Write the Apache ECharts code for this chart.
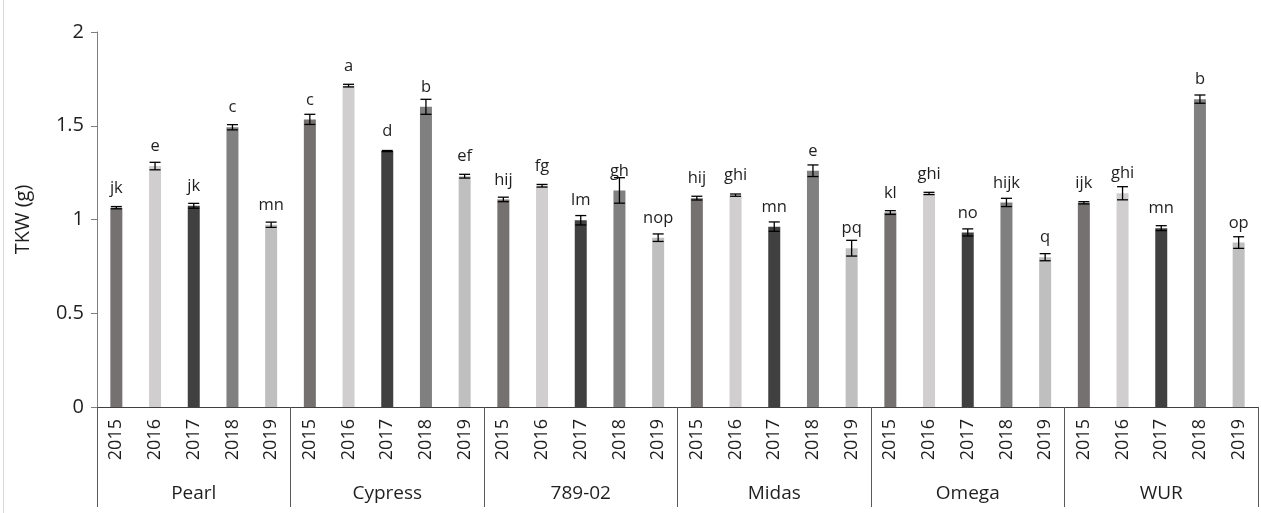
<!DOCTYPE html>
<html>
<head>
<meta charset="utf-8">
<script src="https://cdn.jsdelivr.net/npm/echarts@6/dist/echarts.min.js"></script>
<style>
  html, body { margin: 0; padding: 0; background: #ffffff; }
  #chart { width: 1261px; height: 513px; }
</style>
</head>
<body>
<div id="chart"></div>
<script>
// Thousand-kernel weight (g) per cultivar and harvest year
const cultivars = ['Pearl', 'Cypress', '789-02', 'Midas', 'Omega', 'WUR'];
const years = ['2015', '2016', '2017', '2018', '2019'];

const pearlMean   = [1.063, 1.285, 1.073, 1.492, 0.972];
const cypressMean = [1.534, 1.714, 1.365, 1.601, 1.231];
const line78902Mean = [1.107, 1.180, 0.996, 1.155, 0.903];
const midasMean   = [1.114, 1.130, 0.962, 1.260, 0.847];
const omegaMean   = [1.037, 1.139, 0.931, 1.091, 0.799];
const wurMean     = [1.089, 1.140, 0.954, 1.642, 0.877];

// standard errors
const pearlErr   = [0.006, 0.020, 0.013, 0.014, 0.014];
const cypressErr = [0.027, 0.007, 0.003, 0.040, 0.010];
const line78902Err = [0.012, 0.007, 0.025, 0.068, 0.020];
const midasErr   = [0.010, 0.006, 0.025, 0.031, 0.042];
const omegaErr   = [0.010, 0.006, 0.019, 0.022, 0.019];
const wurErr     = [0.006, 0.035, 0.013, 0.022, 0.031];

// significance groupings
const pearlSig   = ['jk', 'e', 'jk', 'c', 'mn'];
const cypressSig = ['c', 'a', 'd', 'b', 'ef'];
const line78902Sig = ['hij', 'fg', 'lm', 'gh', 'nop'];
const midasSig   = ['hij', 'ghi', 'mn', 'e', 'pq'];
const omegaSig   = ['kl', 'ghi', 'no', 'hijk', 'q'];
const wurSig     = ['ijk', 'ghi', 'mn', 'b', 'op'];

const yTicks = { min: 0, max: 2, interval: 0.5 };

const yearColors = ['#767171', '#d0cece', '#404040', '#808080', '#bfbfbf'];
const FONT = '"Open Sans", "Noto Sans", sans-serif';
const TEXT = '#1f1f1f';

const means = [pearlMean, cypressMean, line78902Mean, midasMean, omegaMean, wurMean].flat();
const errs = [pearlErr, cypressErr, line78902Err, midasErr, omegaErr, wurErr].flat();
const sigs = [pearlSig, cypressSig, line78902Sig, midasSig, omegaSig, wurSig].flat();
const yearAxis = cultivars.flatMap(() => years);

const barData = means.map((v, i) => ({
  value: v,
  itemStyle: { color: yearColors[i % years.length] }
}));
const errData = means.map((v, i) => [i, v - errs[i], v + errs[i]]);

const chart = echarts.init(document.getElementById('chart'), null, { renderer: 'canvas' });

chart.setOption({
  animation: false,
  backgroundColor: '#ffffff',
  textStyle: { fontFamily: FONT },
  grid: { left: 97, right: 3, top: 32, bottom: 106, containLabel: false },
  xAxis: [
    {
      type: 'category',
      data: yearAxis,
      position: 'bottom',
      axisLine: { show: true, lineStyle: { color: '#404040', width: 1 } },
      axisTick: { show: false },
      axisLabel: {
        rotate: 90, margin: 12, interval: 0,
        fontFamily: FONT, fontSize: 18, color: TEXT
      }
    },
    {
      type: 'category',
      data: cultivars,
      position: 'bottom',
      axisLine: { show: false },
      axisTick: {
        show: true, length: 100, alignWithLabel: false,
        lineStyle: { color: '#595959', width: 1 }
      },
      axisLabel: {
        margin: 77, interval: 0,
        fontFamily: FONT, fontSize: 19, color: TEXT
      }
    }
  ],
  yAxis: {
    type: 'value',
    min: yTicks.min, max: yTicks.max, interval: yTicks.interval,
    name: 'TKW (g)',
    nameLocation: 'middle',
    nameRotate: 90,
    nameGap: 64,
    nameTextStyle: { fontFamily: FONT, fontSize: 20, color: TEXT },
    axisLine: { show: true, lineStyle: { color: '#7f7f7f', width: 1 } },
    axisTick: { show: true, length: 6, lineStyle: { color: '#7f7f7f' } },
    splitLine: { show: false },
    axisLabel: { margin: 13, fontFamily: FONT, fontSize: 20, color: TEXT }
  },
  series: [
    {
      type: 'bar',
      xAxisIndex: 0,
      barWidth: 12,
      data: barData,
      label: {
        show: true,
        position: 'top',
        distance: 11,
        fontFamily: FONT,
        fontSize: 16.5,
        color: TEXT,
        formatter: p => sigs[p.dataIndex]
      }
    },
    {
      type: 'custom',
      xAxisIndex: 0,
      data: errData,
      z: 5,
      renderItem: function (params, api) {
        const x = api.coord([api.value(0), 0])[0];
        const lo = api.coord([api.value(0), api.value(1)])[1];
        const hi = api.coord([api.value(0), api.value(2)])[1];
        const half = 5.5;
        const style = { stroke: '#000000', lineWidth: 1.3 };
        return {
          type: 'group',
          children: [
            { type: 'line', shape: { x1: x, y1: lo, x2: x, y2: hi }, style },
            { type: 'line', shape: { x1: x - half, y1: hi, x2: x + half, y2: hi }, style },
            { type: 'line', shape: { x1: x - half, y1: lo, x2: x + half, y2: lo }, style }
          ]
        };
      }
    }
  ],
  graphic: [
    {
      type: 'rect',
      shape: { x: 3, y: 0, width: 1, height: 513 },
      style: { fill: '#d9d9d9' },
      silent: true
    }
  ]
});
</script>
</body>
</html>
